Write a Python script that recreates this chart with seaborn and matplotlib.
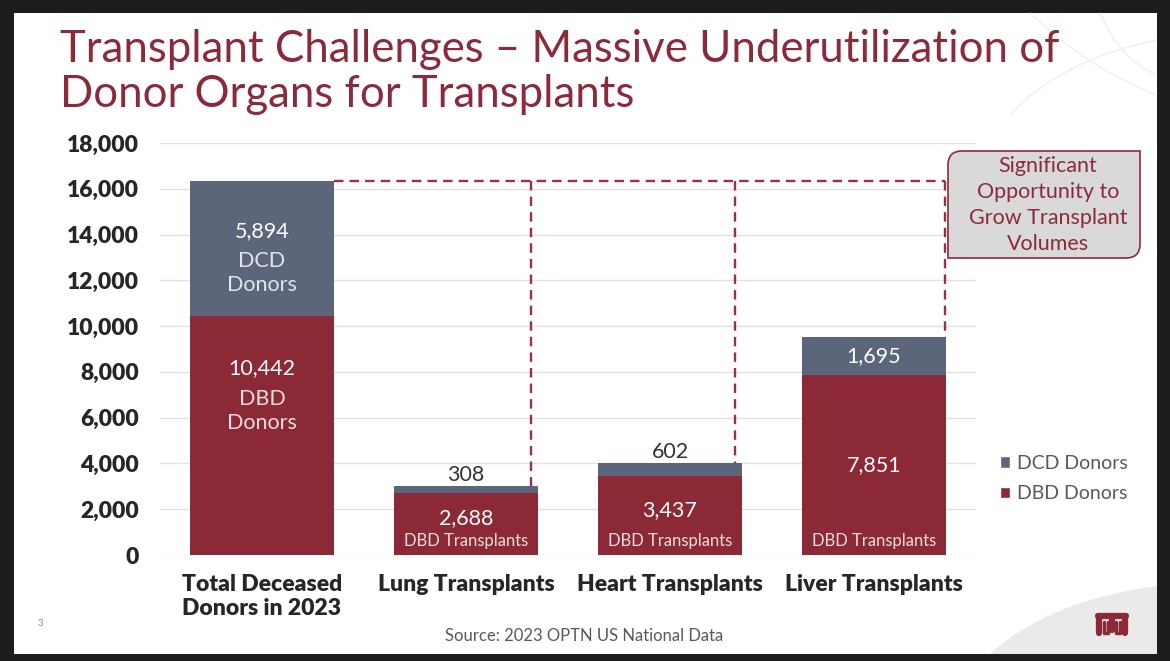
import numpy as np
import pandas as pd
import matplotlib
matplotlib.use('Agg')
import matplotlib.pyplot as plt
import seaborn as sns
from matplotlib.patches import Rectangle, PathPatch, Patch
from matplotlib.path import Path
from matplotlib.transforms import IdentityTransform

# chart data
categories = ['Total Deceased\nDonors in 2023', 'Lung Transplants', 'Heart Transplants', 'Liver Transplants']
dbd_values = [10442, 2688, 3437, 7851]
dcd_values = [5894, 308, 602, 1695]
dbd_notes = ['DBD\nDonors', 'DBD Transplants', 'DBD Transplants', 'DBD Transplants']
dcd_notes = ['DCD\nDonors', '', '', '']
y_ticks = [0, 2000, 4000, 6000, 8000, 10000, 12000, 14000, 16000, 18000]
series_labels = ['DCD Donors', 'DBD Donors']
title_lines = ['Transplant Challenges \u2013 Massive Underutilization of', 'Donor Organs for Transplants']
callout_lines = ['Significant', 'Opportunity to', 'Grow Transplant', 'Volumes']
source_text = 'Source: 2023 OPTN US National Data'

W, H = 1170, 661
DBD_COLOR = '#8B2936'
DCD_COLOR = '#5C667B'
RED_TEXT = '#8B2A3A'
GRAY_TEXT = '#595959'

sns.set_theme(style='white')
plt.rcParams['font.family'] = ['Lato', 'DejaVu Sans']

df = pd.DataFrame({'category': categories, 'DBD': dbd_values, 'DCD': dcd_values})
df['total'] = df['DBD'] + df['DCD']

fig = plt.figure(figsize=(W / 100, H / 100), dpi=100, facecolor='#1c1c1c')


def px(x, y):
    # image pixel (top-left origin) -> display coords
    return (x, H - y)


def fx(x, y):
    # image pixel -> figure fraction
    return (x / W, 1 - y / H)


# slide background
fig.add_artist(Rectangle(fx(14, 654), (1157 - 14) / W, (654 - 13) / H, transform=fig.transFigure,
                         facecolor='white', edgecolor='none', zorder=-2))

# faint decorative swooshes top right
for (x0, y0), (cx, cy), (x1, y1) in [((1030, 13), (1090, 70), (1157, 95)),
                                     ((1157, 40), (1060, 60), (1010, 115)),
                                     ((1100, 13), (1120, 60), (1157, 75))]:
    p = Path([px(x0, y0), px(cx, cy), px(x1, y1)], [Path.MOVETO, Path.CURVE3, Path.CURVE3])
    fig.add_artist(PathPatch(p, transform=IdentityTransform(), facecolor='none',
                             edgecolor='#f1f1f1', lw=1.2, zorder=-1))

# grey corner bottom right
corner = Path([px(990, 654), px(1050, 600), px(1157, 586), px(1157, 654), px(990, 654)],
              [Path.MOVETO, Path.CURVE3, Path.CURVE3, Path.LINETO, Path.CLOSEPOLY])
fig.add_artist(PathPatch(corner, transform=IdentityTransform(), facecolor='#ebe9e9',
                         edgecolor='none', zorder=-1))

ax = fig.add_axes([160 / W, 1 - 555 / H, (976 - 160) / W, (555 - 143) / H])
ax.patch.set_alpha(0)

sns.barplot(data=df, x='category', y='total', order=categories, color=DCD_COLOR, saturation=1,
            width=0.71, errorbar=None, linewidth=0, ax=ax)
sns.barplot(data=df, x='category', y='DBD', order=categories, color=DBD_COLOR, saturation=1,
            width=0.71, errorbar=None, linewidth=0, ax=ax)

ax.set_xlim(-0.5, 3.5)
ax.set_ylim(0, 18000)
ax.set_yticks(y_ticks)
ax.set_yticklabels([f'{v:,}' for v in y_ticks], fontsize=16.5, fontweight='heavy', color='#262626')
ax.set_xticks(range(len(categories)))
ax.set_xticklabels(categories, fontsize=16.5, fontweight='heavy', color='#262626', linespacing=1.22)
ax.tick_params(axis='y', length=0, pad=15)
ax.tick_params(axis='x', length=0, pad=13.5)
ax.set_xlabel('')
ax.set_ylabel('')
ax.yaxis.grid(True, color='#e2e2e2', lw=1)
ax.set_axisbelow(True)
for s in ax.spines.values():
    s.set_visible(False)

per_px = 18000 / 412  # data units per pixel
for i, row in df.iterrows():
    dbd, dcd, tot = row['DBD'], row['DCD'], row['total']
    if i == 0:
        ax.text(i, tot - 50 * per_px, f'{dcd:,}', ha='center', va='center', fontsize=15.5, color='white')
        ax.text(i, tot - 92 * per_px, dcd_notes[i], ha='center', va='center', fontsize=15.5,
                color='#e4e4ea', linespacing=1.3)
        ax.text(i, dbd - 52 * per_px, f'{dbd:,}', ha='center', va='center', fontsize=15.5, color='white')
        ax.text(i, dbd - 95 * per_px, dbd_notes[i], ha='center', va='center', fontsize=15.5,
                color='#f0dde0', linespacing=1.3)
    else:
        # short bars: lift the number above the footer note
        lift = 250 if dbd < 5000 else 0
        ax.text(i, dbd / 2 + lift, f'{dbd:,}', ha='center', va='center',
                fontsize=15.5, color='white')
        ax.text(i, 14 * per_px, dbd_notes[i], ha='center', va='center', fontsize=12, color='#f0dde0')
        if dcd / per_px > 25:
            ax.text(i, dbd + dcd / 2, f'{dcd:,}', ha='center', va='center', fontsize=15.5, color='white')
        else:
            ax.text(i, tot + 1 * per_px, f'{dcd:,}', ha='center', va='bottom', fontsize=15.5,
                    color='#333333')

# dashed gap line from total donors across to each transplant bar
top = df['total'][0]
dash_kw = dict(color='#9B3040', lw=1.7, linestyle=(0, (4, 2.6)))
ax.plot([0 + 0.355, 3 + 0.35], [top, top], **dash_kw)
for i, off in zip([1, 2, 3], [0.32, 0.32, 0.35]):
    ax.plot([i + off, i + off], [top, df['total'][i]], **dash_kw)

# callout box with two rounded corners
x0, x1, yt, yb, r = 948, 1140, H - 151, H - 258, 14
verts = [(x0 + r, yt), (x1, yt), (x1, yb + r), (x1, yb), (x1 - r, yb), (x0, yb), (x0, yt - r),
         (x0, yt), (x0 + r, yt), (x0 + r, yt)]
codes = [Path.MOVETO, Path.LINETO, Path.LINETO, Path.CURVE3, Path.CURVE3, Path.LINETO, Path.LINETO,
         Path.CURVE3, Path.CURVE3, Path.CLOSEPOLY]
fig.add_artist(PathPatch(Path(verts, codes), transform=IdentityTransform(), facecolor='#d9d9d9',
                         edgecolor=RED_TEXT, lw=1.2))
fig.text(*fx(1048, 205), '\n'.join(callout_lines), ha='center', va='center', fontsize=15.5,
         color=RED_TEXT, linespacing=1.38)

# legend
handles = [Patch(facecolor=DCD_COLOR), Patch(facecolor=DBD_COLOR)]
fig.legend(handles, series_labels, loc='upper left', bbox_to_anchor=fx(990, 445), frameon=False,
           fontsize=14, labelcolor=GRAY_TEXT, handlelength=0.55, handleheight=0.55,
           handletextpad=0.35, labelspacing=0.7, borderpad=0)

# title
fig.text(*fx(60, 62), title_lines[0], ha='left', va='baseline', fontsize=31.5, color=RED_TEXT)
fig.text(*fx(60, 107), title_lines[1], ha='left', va='baseline', fontsize=31.5, color=RED_TEXT)

fig.text(*fx(584, 636), source_text, ha='center', va='center', fontsize=12, color=GRAY_TEXT)
fig.text(*fx(40, 623), '3', ha='center', va='center', fontsize=7, color='#8a8a8a')

# logo mark
logo_kw = dict(color='#8B2936', lw=4.5, solid_capstyle='round', transform=IdentityTransform())
for xs, ys in [([1098, 1126], [616, 616]), ([1099, 1099], [616, 633]), ([1125, 1125], [616, 633]),
               ([1112, 1112], [616, 630])]:
    fig.add_artist(plt.Line2D(xs, [H - y for y in ys], **logo_kw))
for xa, xb in [(1104, 1108), (1116, 1120)]:
    fig.add_artist(plt.Line2D([xa, xa, xb, xb], [H - 622, H - 633, H - 633, H - 622],
                              color='#8B2936', lw=2.5, transform=IdentityTransform()))

fig.savefig('out.png', dpi=100, facecolor=fig.get_facecolor())
